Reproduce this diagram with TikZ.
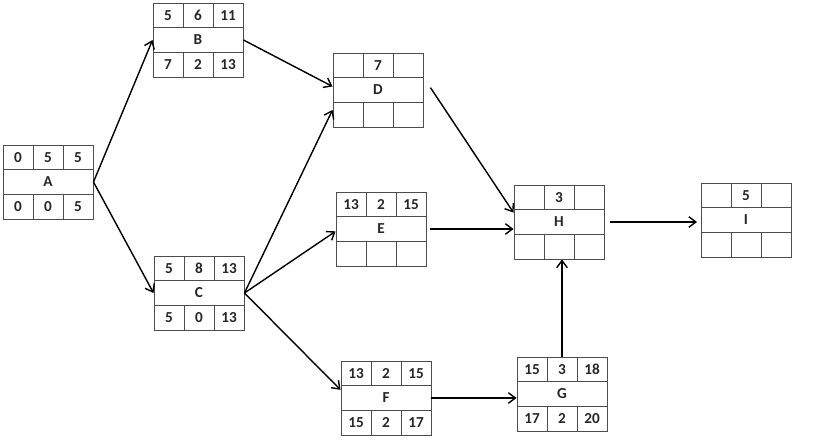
\documentclass[tikz,border=0pt]{standalone}
\usepackage{fontspec}
\setmainfont{Carlito}
\usetikzlibrary{arrows.meta}
\begin{document}
\begin{tikzpicture}[x=0.03cm,y=-0.03cm,
  every node/.style={font=\fontsize{13}{15}\selectfont\bfseries,text=black!85},
  actbox/.style={rectangle,draw=black!70,line width=0.8pt,minimum width=2.7cm,minimum height=2.22cm,inner sep=0pt},
  cell/.style={draw=black!70,line width=0.8pt},
  link/.style={-{Straight Barb[length=6pt,width=9pt]},line width=1.2pt}]
\useasboundingbox (0,0) rectangle (833,442);
% activity boxes: early start / duration / early finish, name, late start / slack / late finish
\foreach \n/\x/\y/\l/\ta/\tb/\tc/\ba/\bb/\bc in {
  A/48/182/A/0/5/5/0/0/5,
  B/198/40/B/5/6/11/7/2/13,
  C/199/293/C/5/8/13/5/0/13,
  D/378/90/D/{}/7/{}/{}/{}/{},
  E/381/229/E/13/2/15/{}/{}/{},
  F/386/398/F/13/2/15/15/2/17,
  G/562/394/G/15/3/18/17/2/20,
  H/559/222/H/{}/3/{}/{}/{}/{},
  I/746/220/I/{}/5/{}/{}/{}/{}}{
  \node[actbox] (\n) at (\x,\y) {\l};
  \draw[cell] (\x-45,\y-12.3) -- ++(90,0) (\x-45,\y+12.3) -- ++(90,0);
  \draw[cell] (\x-15,\y-37) -- ++(0,24.7) (\x+15,\y-37) -- ++(0,24.7);
  \draw[cell] (\x-15,\y+12.3) -- ++(0,24.7) (\x+15,\y+12.3) -- ++(0,24.7);
  \node (\n-ta) at (\x-30,\y-24.7) {\ta};
  \node (\n-tb) at (\x,\y-24.7) {\tb};
  \node (\n-tc) at (\x+30,\y-24.7) {\tc};
  \node (\n-ba) at (\x-30,\y+24.7) {\ba};
  \node (\n-bb) at (\x,\y+24.7) {\bb};
  \node (\n-bc) at (\x+30,\y+24.7) {\bc};
}
% links
\draw[link] (A.east) -- (B.west);
\draw[link] (A.east) -- (C.west);
\draw[link] (B.east) -- ([yshift=3pt]D.west);
\draw[link] (C.east) -- ([yshift=-17pt]D.west);
\draw[link] (C.east) -- ([yshift=-2pt]E.west);
\draw[link] (C.east) -- ([yshift=7pt]F.west);
\draw[link] ([xshift=6pt,yshift=2pt]D.east) -- ([yshift=8pt]H.west);
\draw[link] ([xshift=3pt]E.east) -- (E.east -| H.west);
\draw[link] (F.east) -- (F.east -| G.west);
\draw[link] (G.north) -- (G.north |- H.south);
\draw[link] ([xshift=5pt]H.east) -- ([xshift=-3pt]H.east -| I.west);
\end{tikzpicture}
\end{document}
